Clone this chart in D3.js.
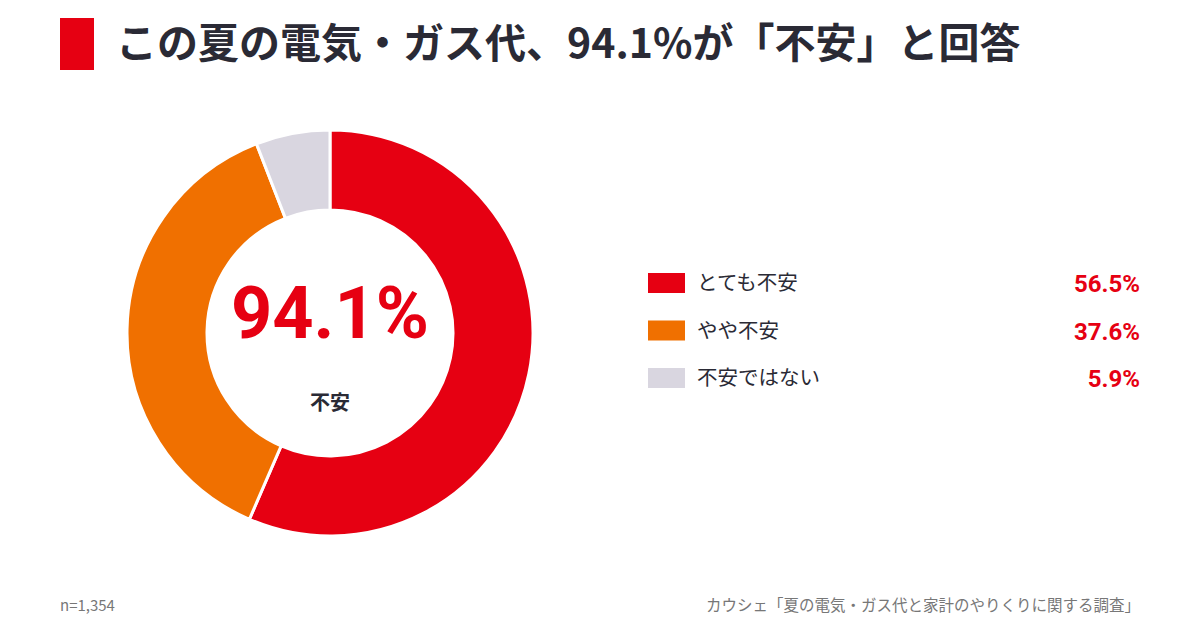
<!DOCTYPE html>
<html>
  <head>
    <meta charset="utf-8">
    <title>この夏の電気・ガス代</title>
    <script src="https://d3js.org/d3.v7.min.js"></script>
    <style>
      body { margin: 0; background: #fff; font-family: "Noto Sans CJK JP", "Noto Sans", sans-serif; }
      svg { display: block; }
    </style>
  </head>
  <body>
    <svg id="chart" width="1200" height="630"></svg>
    <script>
      // data
      const categories = ["とても不安", "やや不安", "不安ではない"];
      const values = [56.5, 37.6, 5.9];
      const colourList = ["#e60012", "#f07000", "#d9d6e0"];
      const titleText = "この夏の電気・ガス代、94.1%が「不安」と回答";
      const centreValue = "94.1%";
      const centreLabel = "不安";
      const sampleNote = "n=1,354";
      const sourceNote = "カウシェ「夏の電気・ガス代と家計のやりくりに関する調査」";

      const svg = d3.select("#chart");
      const colours = d3.scaleOrdinal().domain(categories).range(colourList);

      // title
      svg.append("rect")
        .attr("x", 60).attr("y", 18)
        .attr("width", 34).attr("height", 52)
        .attr("fill", "#e60012");
      svg.append("text")
        .attr("x", 116).attr("y", 58)
        .attr("font-size", 41).attr("font-weight", 700)
        .attr("fill", "#2a2a35")
        .text(titleText);

      // donut
      const cx = 330, cy = 333;
      const pie = d3.pie().sort(null).value(d => d.value);
      const arc = d3.arc().innerRadius(123).outerRadius(203);
      const data = categories.map((c, i) => ({ name: c, value: values[i] }));
      const donut = svg.append("g").attr("transform", `translate(${cx},${cy})`);
      donut.selectAll("path")
        .data(pie(data))
        .join("path")
          .attr("d", arc)
          .attr("fill", d => colours(d.data.name))
          .attr("stroke", "#fff")
          .attr("stroke-width", 3);

      donut.append("text")
        .attr("text-anchor", "middle")
        .attr("y", 5)
        .attr("font-family", "Roboto, 'Noto Sans', sans-serif")
        .attr("font-size", 72).attr("font-weight", 700)
        .attr("fill", "#e60012")
        .text(centreValue);
      donut.append("text")
        .attr("text-anchor", "middle")
        .attr("y", 77)
        .attr("font-size", 20).attr("font-weight", 700)
        .attr("fill", "#2a2a35")
        .text(centreLabel);

      // legend
      const y = d3.scalePoint().domain(categories).range([283, 378]);
      const rows = svg.append("g").selectAll("g")
        .data(data)
        .join("g")
          .attr("transform", d => `translate(0,${y(d.name)})`);
      rows.append("rect")
        .attr("x", 648).attr("y", -10)
        .attr("width", 37).attr("height", 20)
        .attr("fill", d => colours(d.name));
      rows.append("text")
        .attr("x", 697).attr("y", 7)
        .attr("font-size", 20.5)
        .attr("fill", "#2a2a35")
        .text(d => d.name);
      rows.append("text")
        .attr("x", 1140).attr("y", 9)
        .attr("text-anchor", "end")
        .attr("font-family", "Roboto, 'Noto Sans', sans-serif")
        .attr("font-size", 24).attr("font-weight", 700)
        .attr("fill", "#e60012")
        .text(d => d3.format(".1f")(d.value) + "%");

      // footnotes
      svg.append("text")
        .attr("x", 60).attr("y", 611)
        .attr("font-size", 15)
        .attr("fill", "#777")
        .text(sampleNote);
      svg.append("text")
        .attr("x", 1140).attr("y", 611)
        .attr("text-anchor", "end")
        .attr("font-size", 15.5)
        .attr("fill", "#777")
        .text(sourceNote);
    </script>
  </body>
</html>
